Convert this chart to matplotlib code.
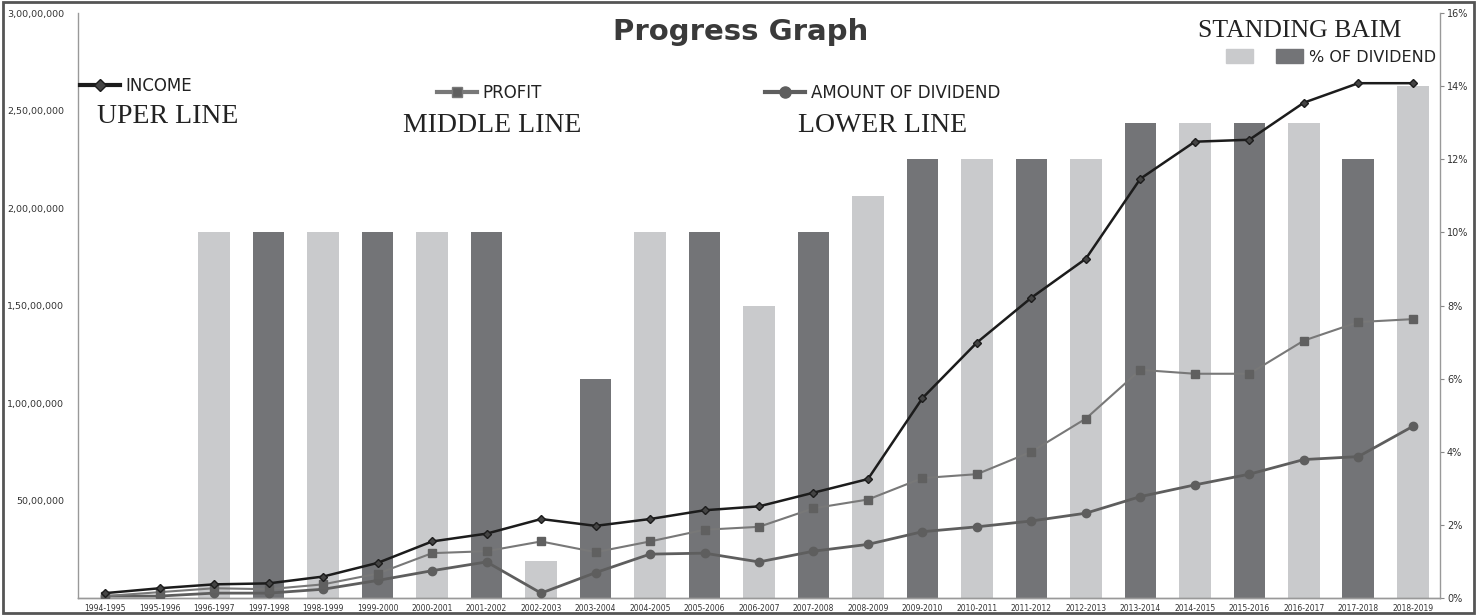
import numpy as np
import matplotlib
matplotlib.use("Agg")
import matplotlib.pyplot as plt
from matplotlib.lines import Line2D
from matplotlib.patches import Patch
from matplotlib.ticker import FuncFormatter

# years of the progress report
years = ["1994-1995", "1995-1996", "1996-1997", "1997-1998", "1998-1999",
         "1999-2000", "2000-2001", "2001-2002", "2002-2003", "2003-2004",
         "2004-2005", "2005-2006", "2006-2007", "2007-2008", "2008-2009",
         "2009-2010", "2010-2011", "2011-2012", "2012-2013", "2013-2014",
         "2014-2015", "2015-2016", "2016-2017", "2017-2018", "2018-2019"]

# rupees
income = [250000, 500000, 700000, 750000, 1100000, 1800000, 2900000, 3300000,
          4050000, 3700000, 4050000, 4500000, 4700000, 5400000, 6100000,
          10250000, 13100000, 15400000, 17400000, 21500000, 23400000,
          23500000, 25400000, 26400000, 26400000]
profit = [100000, 300000, 500000, 450000, 700000, 1250000, 2300000, 2400000,
          2900000, 2350000, 2900000, 3500000, 3650000, 4600000, 5050000,
          6150000, 6350000, 7500000, 9200000, 11700000, 11500000, 11500000,
          13200000, 14150000, 14300000]
dividend_amt = [100000, 100000, 250000, 250000, 450000, 900000, 1400000,
                1850000, 250000, 1300000, 2250000, 2300000, 1850000, 2400000,
                2750000, 3400000, 3650000, 3950000, 4350000, 5200000, 5800000,
                6350000, 7100000, 7250000, 8800000]

# percent of dividend (bars)
dividend_pct = [0, 0, 10, 10, 10, 10, 10, 10, 1, 6, 10, 10, 8, 10, 11,
                12, 12, 12, 12, 13, 13, 13, 13, 12, 14]

LIGHT = "#c9cacc"
DARK = "#737477"


def indian_fmt(v, pos):
    s = str(int(round(v)))
    if len(s) <= 3:
        return s
    head, tail = s[:-3], s[-3:]
    parts = []
    while len(head) > 2:
        parts.insert(0, head[-2:])
        head = head[:-2]
    if head:
        parts.insert(0, head)
    return ",".join(parts) + "," + tail


fig = plt.figure(figsize=(14.77, 6.15), dpi=100, facecolor="white")
ax = fig.add_axes([78 / 1477, 1 - 598 / 615, 1362 / 1477, 585 / 615])
ax2 = ax.twinx()

x = np.arange(len(years))
bar_colors = [LIGHT if i % 2 == 0 else DARK for i in range(len(years))]
ax2.bar(x, dividend_pct, width=0.58, color=bar_colors, zorder=1)
ax2.set_ylim(0, 16)
ax2.set_yticks(range(0, 17, 2))
ax2.yaxis.set_major_formatter(FuncFormatter(lambda v, p: f"{int(v)}%"))
ax2.tick_params(axis="y", labelsize=7, length=3, color="#888888",
                labelcolor="#333333", pad=2)

ax.set_zorder(ax2.get_zorder() + 1)
ax.patch.set_visible(False)
ax2.patch.set_facecolor("#fcfcfc")

ax.plot(x, income, color="#1c1c1c", lw=1.8, marker="D", ms=4.5,
        mfc="#444444", mec="#1c1c1c", zorder=5)
ax.plot(x, profit, color="#787878", lw=1.5, marker="s", ms=5.5,
        mfc="#606060", mec="#606060", zorder=4)
ax.plot(x, dividend_amt, color="#5e5e5e", lw=2, marker="o", ms=6,
        mfc="#5e5e5e", mec="#5e5e5e", zorder=3)

ax.set_xlim(-0.5, len(years) - 0.5)
ax.set_ylim(0, 30000000)
ax.set_yticks(np.arange(5000000, 30000001, 5000000))
ax.yaxis.set_major_formatter(FuncFormatter(indian_fmt))
ax.tick_params(axis="y", labelsize=6.8, length=0, labelcolor="#333333", pad=10)
ax.set_xticks(x)
ax.set_xticklabels(years, fontsize=5.5, color="#333333")
ax.tick_params(axis="x", length=0, pad=4)

for a in (ax, ax2):
    a.spines["top"].set_visible(False)
    for s in ("left", "right", "bottom"):
        a.spines[s].set_color("#999999")
        a.spines[s].set_linewidth(1)
ax.spines["right"].set_visible(False)
ax2.spines["left"].set_visible(False)

# legends for the three lines
line_entries = [
    (Line2D([], [], color="#1c1c1c", lw=3, marker="D", ms=6, mfc="#444444"),
     "INCOME", 80, 86),
    (Line2D([], [], color="#787878", lw=3, marker="s", ms=7, mfc="#606060"),
     "PROFIT", 437, 93),
    (Line2D([], [], color="#5e5e5e", lw=3, marker="o", ms=8, mfc="#5e5e5e"),
     "AMOUNT OF DIVIDEND", 765, 93),
]
for h, lab, px, py in line_entries:
    leg = ax.legend([h], [lab], loc="center left", frameon=False,
                    bbox_to_anchor=(px / 1477, 1 - py / 615),
                    bbox_transform=fig.transFigure, fontsize=12,
                    handlelength=2.4, handletextpad=0.35, borderpad=0,
                    borderaxespad=0, labelcolor="#222222")
    ax.add_artist(leg)

bar_leg = ax.legend([Patch(color=LIGHT), Patch(color=DARK)], ["", "% OF DIVIDEND"],
                    loc="center left", ncol=2, frameon=False,
                    bbox_to_anchor=(1226 / 1477, 1 - 57 / 615),
                    bbox_transform=fig.transFigure, fontsize=11.5,
                    handlelength=1.7, handleheight=0.9, handletextpad=0.4,
                    columnspacing=1.0, borderpad=0, borderaxespad=0,
                    labelcolor="#222222")

fig.text(741 / 1477, 1 - 40 / 615, "Progress Graph", ha="center", va="baseline",
         fontsize=21, fontweight="bold", color="#3a3a3a")
serif = ["Liberation Serif", "DejaVu Serif"]
fig.text(97 / 1477, 1 - 123 / 615, "UPER LINE", family=serif, fontsize=20,
         color="#222222", va="baseline")
fig.text(403 / 1477, 1 - 132 / 615, "MIDDLE LINE", family=serif, fontsize=20,
         color="#222222", va="baseline")
fig.text(798 / 1477, 1 - 132 / 615, "LOWER LINE", family=serif, fontsize=20,
         color="#222222", va="baseline")
fig.text(1198 / 1477, 1 - 37 / 615, "STANDING BAIM", family=serif, fontsize=18.5,
         color="#222222", va="baseline")

# outer frame
fig.patches.append(plt.Rectangle((0.002, 0.004), 0.996, 0.993, fill=False,
                                 edgecolor="#555555", lw=2,
                                 transform=fig.transFigure, figure=fig))

fig.savefig("out.png", dpi=100)
